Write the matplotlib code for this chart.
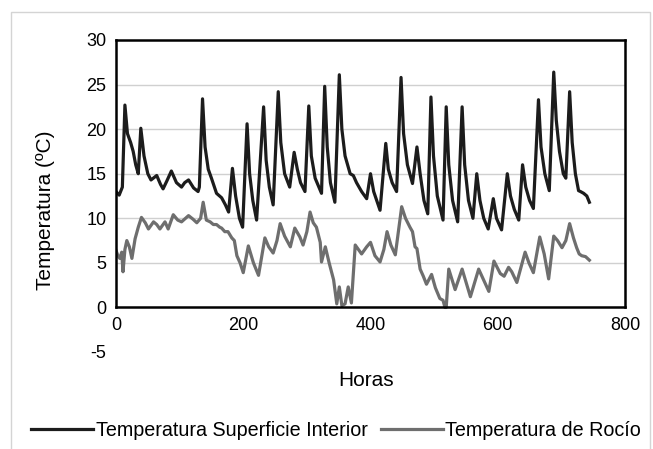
import matplotlib.pyplot as plt
from matplotlib.patches import Rectangle

plt.rcParams['font.family'] = ['Liberation Sans', 'DejaVu Sans']
plt.rcParams['axes.unicode_minus'] = False

# Temperatura Superficie Interior (hours, ºC)
horas_sup = [0, 5, 10, 14, 18, 23, 27, 31, 35, 39, 44, 50, 55, 64, 70, 74, 80, 87,
             95, 103, 108, 114, 122, 129, 131, 136, 140, 145, 150, 158, 166, 172,
             177, 183, 188, 194, 199, 206, 210, 215, 221, 232, 236, 241, 247, 255,
             259, 265, 273, 280, 285, 290, 297, 303, 307, 313, 323, 328, 332, 337,
             344, 351, 355, 360, 368, 373, 378, 386, 394, 400, 405, 415, 424, 428,
             434, 441, 448, 452, 458, 466, 473, 478, 484, 490, 495, 499, 505, 514,
             519, 523, 529, 537, 544, 548, 554, 561, 567, 572, 578, 585, 593, 598,
             606, 615, 620, 626, 633, 639, 644, 650, 656, 664, 668, 674, 681, 688,
             692, 697, 703, 707, 713, 717, 722, 727, 730, 735, 740, 744]
temp_sup = [13.0, 12.6, 13.5, 22.7, 19.5, 18.5, 17.5, 16.0, 15.0, 20.1, 17.0, 15.0,
            14.3, 14.8, 13.8, 13.3, 14.2, 15.3, 14.0, 13.5, 14.0, 14.3, 13.4, 13.0,
            13.5, 23.4, 18.0, 15.5, 14.5, 12.8, 12.3, 11.5, 10.7, 15.6, 12.5, 10.0,
            9.0, 20.6, 15.0, 12.0, 9.8, 22.5, 16.5, 13.5, 11.5, 24.2, 18.5, 15.0,
            13.5, 17.4, 15.5, 14.0, 13.0, 22.6, 17.0, 14.5, 12.8, 24.8, 18.0, 14.0,
            11.8, 26.1, 20.0, 17.0, 15.0, 14.8, 14.0, 13.0, 12.2, 15.0, 13.0, 10.9,
            18.4, 15.5, 14.0, 13.0, 25.8, 19.5, 16.0, 13.9, 18.0, 15.0, 12.0, 10.5,
            23.6, 17.0, 12.5, 9.8, 22.5, 16.0, 12.0, 9.6, 22.5, 16.0, 12.0, 10.0,
            15.0, 12.0, 10.0, 8.8, 12.2, 10.0, 8.7, 15.0, 12.5, 11.0, 9.8, 16.0,
            13.5, 12.0, 11.1, 23.3, 18.0, 15.0, 13.1, 26.4, 21.0, 17.5, 15.0, 14.5,
            24.2, 18.5, 15.0, 13.1, 13.0, 12.8, 12.5, 11.8]

# Temperatura de Rocío (hours, ºC)
horas_roc = [0, 3, 6, 9, 11, 14, 17, 21, 25, 30, 35, 40, 46, 51, 59, 64, 69, 77,
             82, 90, 97, 103, 114, 121, 127, 133, 137, 142, 148, 153, 158, 163,
             166, 171, 176, 182, 186, 190, 195, 200, 208, 216, 224, 234, 240, 247,
             253, 258, 265, 274, 281, 289, 294, 300, 305, 310, 315, 321, 323, 329,
             335, 342, 347, 351, 355, 360, 365, 370, 376, 381, 386, 394, 400, 407,
             415, 421, 426, 432, 439, 449, 455, 462, 466, 470, 473, 478, 483, 488,
             496, 502, 509, 514, 517, 519, 523, 533, 544, 557, 570, 586, 594, 604,
             610, 617, 622, 630, 643, 649, 656, 666, 673, 680, 688, 694, 701, 707,
             713, 719, 724, 728, 732, 738, 744]
temp_roc = [6.4, 5.8, 5.5, 6.2, 4.0, 6.5, 7.5, 6.8, 5.5, 7.7, 9.0, 10.1, 9.5, 8.8,
            9.6, 9.3, 8.8, 9.6, 8.8, 10.4, 9.8, 9.6, 10.3, 9.9, 9.5, 10.0, 11.8,
            9.8, 9.6, 9.3, 9.3, 9.0, 8.9, 8.5, 8.5, 7.8, 7.5, 5.8, 5.0, 3.9, 6.9,
            5.0, 3.6, 7.8, 6.8, 6.1, 7.5, 9.4, 8.0, 6.8, 8.9, 7.9, 7.0, 8.5, 10.7,
            9.5, 9.0, 7.3, 5.1, 6.8, 5.0, 3.1, 0.4, 2.3, 0.2, 0.4, 2.3, 0.5, 7.0,
            6.5, 6.0, 6.8, 7.3, 5.8, 5.1, 6.5, 8.5, 7.0, 5.9, 11.3, 10.0, 9.0, 8.5,
            6.8, 6.6, 4.3, 3.5, 2.6, 3.7, 2.2, 1.0, 0.8, 0.0, 0.0, 4.3, 2.0, 4.3,
            1.2, 4.3, 1.8, 5.2, 3.8, 3.5, 4.5, 4.0, 2.8, 6.2, 5.0, 3.9, 7.9, 6.0,
            3.2, 8.0, 7.5, 6.7, 7.5, 9.4, 7.8, 6.7, 6.0, 5.8, 5.7, 5.3]

yticks = [-5, 0, 5, 10, 15, 20, 25, 30]
xticks = [0, 200, 400, 600, 800]

fig = plt.figure(figsize=(6.53, 4.49), dpi=100, facecolor='white')
ax = fig.add_axes([116/653, 1 - 352/449, (625 - 116)/653, (352 - 40)/449])

# faint chart-area border
fig.patches.append(Rectangle((11/653, -0.1), (650 - 11)/653, 1.1 - 12/449,
                             transform=fig.transFigure, fill=False,
                             edgecolor='#d4d4d4', linewidth=1))

for g in yticks[2:-1]:
    ax.axhline(g, color='#d0d0d0', linewidth=1, zorder=0)

ax.plot(horas_sup, temp_sup, color='#1c1c1c', linewidth=2.3,
        label='Temperatura Superficie Interior')
ax.plot(horas_roc, temp_roc, color='#6e6e6e', linewidth=2.3,
        label='Temperatura de Rocío')

ax.set_xlim(0, 800)
ax.set_ylim(-5, 30)
ax.set_xticks(xticks)
ax.set_yticks(yticks)
ax.tick_params(length=0, labelsize=13, pad=7)

ax.spines['bottom'].set_position(('data', 0))
for s in ['left', 'right', 'top', 'bottom']:
    ax.spines[s].set_linewidth(1.8)
    ax.spines[s].set_color('black')
ax.spines['left'].set_bounds(0, 30)
ax.spines['right'].set_bounds(0, 30)

ax.set_ylabel('Temperatura (ºC)', fontsize=15)
ax.yaxis.set_label_coords((55 - 116)/509, (352 - 210)/312)
fig.text(366/653, 1 - 381/449, 'Horas', fontsize=15, ha='center', va='center')

fig.legend(loc='center', bbox_to_anchor=(336/653, 1 - 430/449), ncol=2,
           frameon=False, fontsize=14.2, handlelength=3.15, handletextpad=0.12,
           columnspacing=0.66)

fig.savefig('out.png', dpi=100, facecolor='white')
